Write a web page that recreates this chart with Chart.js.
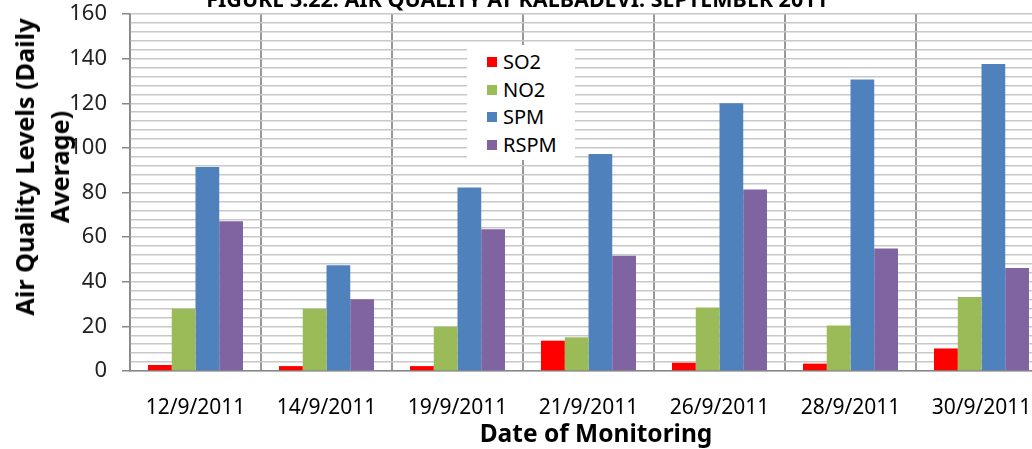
<!DOCTYPE html>
<html>
<head>
<meta charset="utf-8">
<title>Air Quality at Kalbadevi</title>
<script src="https://cdn.jsdelivr.net/npm/chart.js@4.4.1/dist/chart.umd.min.js"></script>
<style>
    body { margin: 0; background: #fff; }
    #wrap { position: relative; width: 1032px; height: 449px; overflow: hidden; font-family: "Noto Sans", sans-serif; }
    #airChart { position: absolute; left: 0; top: 0; }
    #chartTitle { position: absolute; left: 517px; top: -12px; transform: translateX(-50%); font-weight: bold; font-size: 21.5px; line-height: 21.5px; white-space: nowrap; color: #000; }
    #yTitle { position: absolute; left: 42px; top: 167px; transform: translate(-50%, -50%) rotate(-90deg); font-weight: bold; font-size: 25.2px; line-height: 35px; text-align: center; white-space: nowrap; color: #000; }
    #xTitle { position: absolute; left: 596px; top: 421px; transform: translateX(-50%); font-weight: bold; font-size: 24.5px; line-height: 24px; white-space: nowrap; color: #000; }
    #legendBox { position: absolute; left: 467px; top: 45px; width: 108px; height: 115px; background: #fff; padding-top: 3px; box-sizing: border-box; }
    .legend-item { height: 27.7px; line-height: 27.7px; font-size: 20px; color: #000; position: relative; padding-left: 36px; }
    .legend-item span { position: absolute; left: 20px; top: 9px; width: 10px; height: 10px; }
</style>
</head>
<body>
<div id="wrap">
    <canvas id="airChart" width="1060" height="449"></canvas>
    <div id="chartTitle">FIGURE 3.22: AIR QUALITY AT KALBADEVI: SEPTEMBER 2011</div>
    <div id="yTitle">Air Quality Levels (Daily<br>Average)</div>
    <div id="xTitle">Date of Monitoring</div>
    <div id="legendBox"></div>
</div>

<script>
// datos
const dates = ["12/9/2011", "14/9/2011", "19/9/2011", "21/9/2011", "26/9/2011", "28/9/2011", "30/9/2011"];
const so2 = [2.7, 2.2, 2.2, 13.6, 3.7, 3.3, 10.1];
const no2 = [27.9, 27.9, 19.8, 15.1, 28.5, 20.4, 33.2];
const spm = [91.4, 47.4, 82.2, 97.2, 120.0, 130.6, 137.6];
const rspm = [67.1, 32.2, 63.5, 51.7, 81.3, 54.9, 46.2];

const seriesNames = ["SO2", "NO2", "SPM", "RSPM"];
const seriesColors = ["#FF0000", "#9BBB59", "#4F81BD", "#8064A2"];
const seriesData = [so2, no2, spm, rspm];

const yMin = 0;
const yMax = 160;
const yStep = 4;     // lineas menores
const yLabelStep = 20;

const ctx = document.getElementById("airChart").getContext("2d");

const airChart = new Chart(ctx, {
    type: "bar",
    data: {
        labels: dates,
        datasets: seriesNames.map(function (name, i) {
            return {
                label: name,
                data: seriesData[i],
                backgroundColor: seriesColors[i],
                borderWidth: 0,
                categoryPercentage: 0.725,
                barPercentage: 1
            };
        })
    },
    options: {
        responsive: false,
        animation: false,
        devicePixelRatio: 1,
        layout: { padding: { left: 0, top: 14, right: 13, bottom: 0 } },
        plugins: {
            legend: { display: false },
            title: { display: false },
            tooltip: { enabled: false }
        },
        scales: {
            x: {
                grid: { color: "#999", lineWidth: 2, drawTicks: false },
                border: { color: "#888", width: 1.5 },
                ticks: {
                    color: "#000",
                    font: { family: "Noto Sans", size: 21 },
                    padding: 24,
                    maxRotation: 0
                },
                afterFit: function (scale) { scale.height = 78; }
            },
            y: {
                min: yMin,
                max: yMax,
                grid: {
                    color: "#c8c8c8",
                    lineWidth: 1.5,
                    tickLength: 8,
                    tickColor: function (c) {
                        return c.tick && c.tick.value % yLabelStep === 0 ? "#888" : "rgba(0,0,0,0)";
                    }
                },
                border: { color: "#888", width: 1.5 },
                ticks: {
                    stepSize: yStep,
                    autoSkip: false,
                    color: "#222",
                    font: { family: "Noto Sans", size: 22 },
                    padding: 15,
                    callback: function (v) { return v % yLabelStep === 0 ? v : ""; }
                },
                afterFit: function (scale) {
                    scale.width = 130;
                    // que la etiqueta 160 no empuje el area hacia abajo
                    scale.paddingTop = 0;
                    scale.paddingBottom = 0;
                }
            }
        }
    }
});

// leyenda en html sobre el grafico
const legendBox = document.getElementById("legendBox");
airChart.data.datasets.forEach(function (ds) {
    let item = document.createElement("div");
    item.className = "legend-item";
    let sw = document.createElement("span");
    sw.style.background = ds.backgroundColor;
    item.appendChild(sw);
    item.appendChild(document.createTextNode(ds.label));
    legendBox.appendChild(item);
});
</script>
</body>
</html>
